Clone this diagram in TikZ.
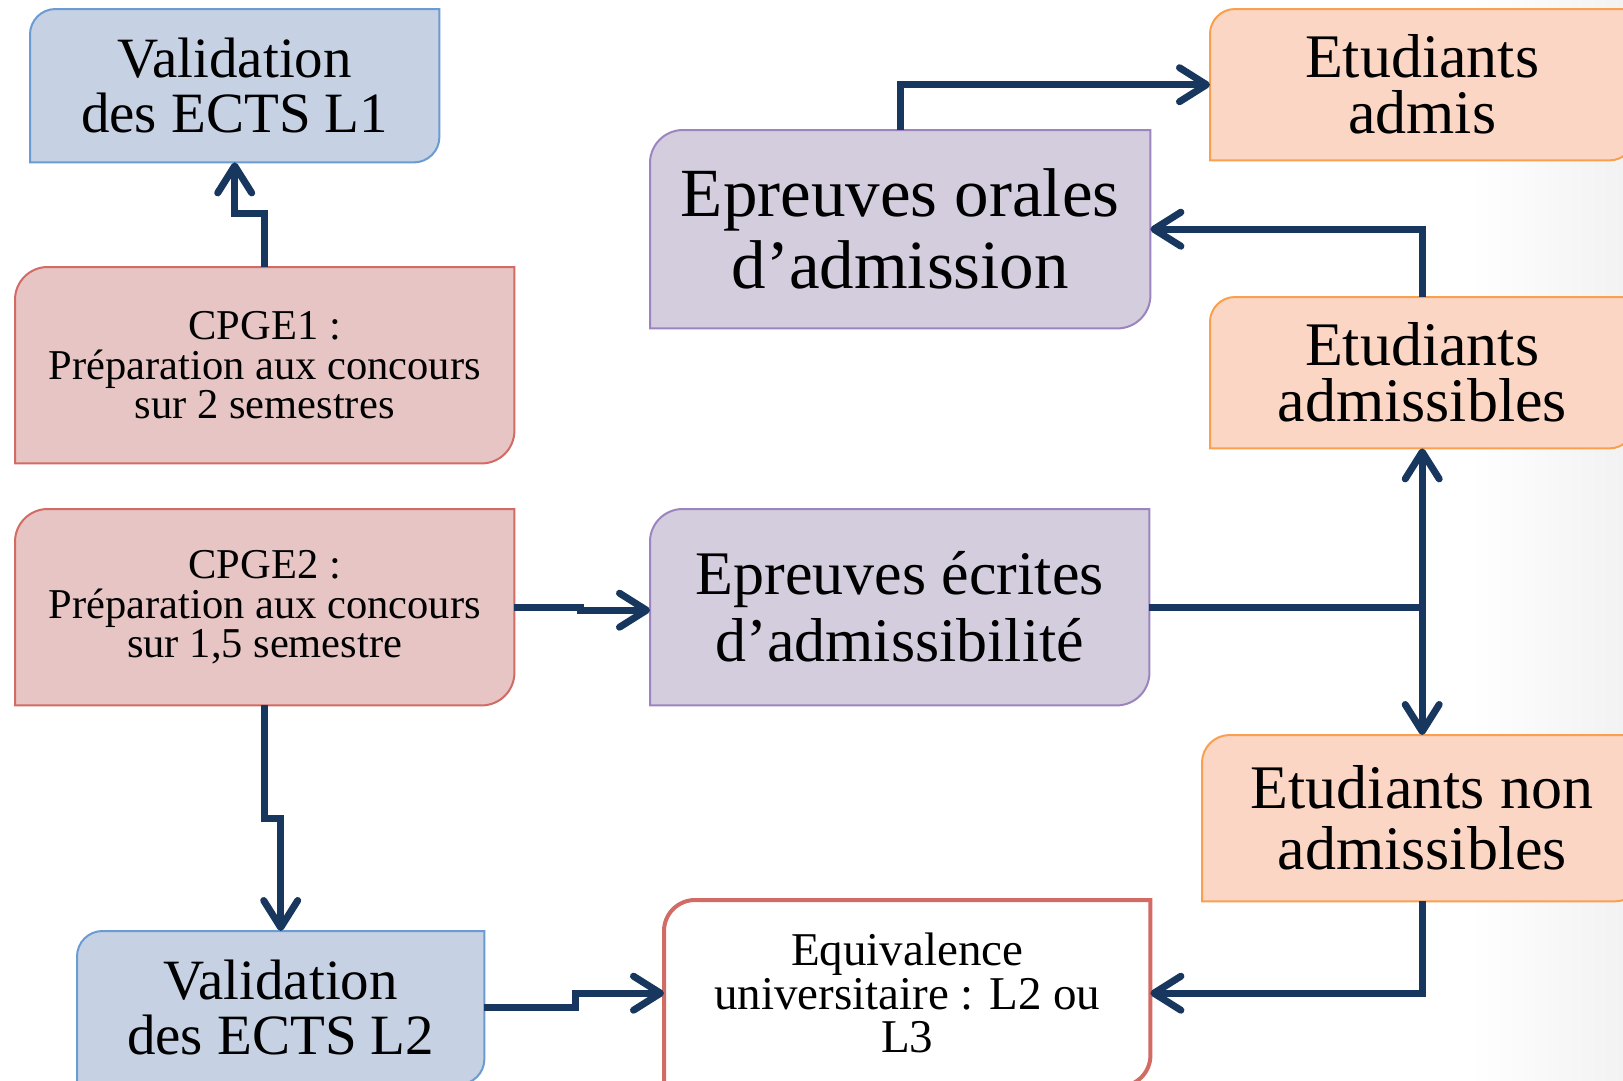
\documentclass[tikz,border=0pt]{standalone}
\usepackage{fontspec}
\setmainfont{Liberation Serif}
\usetikzlibrary{arrows.meta,calc}
\definecolor{navy}{HTML}{17375E}
\definecolor{bluef}{HTML}{C6D2E4}
\definecolor{blued}{HTML}{6A9BD2}
\definecolor{redf}{HTML}{E6C5C4}
\definecolor{redd}{HTML}{D26B64}
\definecolor{purf}{HTML}{D3CDDE}
\definecolor{purd}{HTML}{9C85BE}
\definecolor{oraf}{HTML}{FCD6C4}
\definecolor{orad}{HTML}{F8A04E}
\definecolor{shadegray}{HTML}{F2F2F2}
\pgfdeclarelayer{shadelayer}
\pgfdeclarelayer{boxlayer}
\pgfsetlayers{shadelayer,boxlayer,main}
\newcommand\dshape[3]{\path[#3] (#1.south west) -- ([yshift=-#2]#1.north west) arc[start angle=180,end angle=90,radius=#2] -- (#1.north east) -- ([yshift=#2]#1.south east) arc[start angle=0,end angle=-90,radius=#2] -- cycle;}
\tikzset{
  conn/.style={draw=navy, line width=7pt},
  arr/.style={conn, -{Straight Barb[length=27pt,width=34pt,round]}},
  bx/.style={rectangle, inner sep=0pt, anchor=north west, align=center},
  bigtxt/.style={font=\fontsize{57}{55}\selectfont},
  smalltxt/.style={font=\fontsize{42.5}{39.5}\selectfont},
  etxt/.style={font=\fontsize{62}{56}\selectfont},
}
\begin{document}
\begin{tikzpicture}[x=1pt,y=1pt]
\useasboundingbox (0,0) rectangle (1623,-1080);
\begin{pgfonlayer}{shadelayer}
\fill[white] (0,0) rectangle (1623,-1080);
\shade[left color=white, right color=shadegray] (1470,0) rectangle (1623,-1080);
\end{pgfonlayer}

\node[bx, bigtxt, minimum width=409pt, minimum height=153pt] (l1) at (30,-9) {Validation\\des ECTS L1};
\node[bx, smalltxt, minimum width=499pt, minimum height=196pt] (cpge1) at (15,-267) {CPGE1 :\\Préparation aux concours\\sur 2 semestres};
\node[bx, smalltxt, minimum width=499pt, minimum height=196pt] (cpge2) at (15,-509) {CPGE2 :\\Préparation aux concours\\sur 1,5 semestre};
\node[bx, bigtxt, minimum width=407pt, minimum height=153pt] (l2) at (77,-931) {Validation\\des ECTS L2};
\node[bx, font=\fontsize{69}{72}\selectfont, minimum width=500pt, minimum height=198pt] (orales) at (650,-130) {Epreuves orales\\d’admission};
\node[bx, font=\fontsize{62}{67}\selectfont, minimum width=499pt, minimum height=196pt] (ecrites) at (650,-509) {Epreuves écrites\\d’admissibilité};
\node[bx, font=\fontsize{47}{43.5}\selectfont, minimum width=486pt, minimum height=186pt] (equiv) at (664,-900) {Equivalence\\universitaire : L2 ou\\L3};
\node[bx, etxt, minimum width=424pt, minimum height=151pt] (admis) at (1210,-9) {Etudiants\\admis};
\node[bx, etxt, minimum width=424pt, minimum height=151pt] (admissibles) at (1210,-297) {Etudiants\\admissibles};
\node[bx, font=\fontsize{62}{61}\selectfont, minimum width=440pt, minimum height=166pt] (nonadm) at (1202,-735) {Etudiants non\\admissibles};

\begin{pgfonlayer}{boxlayer}
\dshape{l1}{25.5pt}{fill=bluef, draw=blued, line width=2pt}
\dshape{l2}{25.5pt}{fill=bluef, draw=blued, line width=2pt}
\dshape{cpge1}{32.7pt}{fill=redf, draw=redd, line width=2pt}
\dshape{cpge2}{32.7pt}{fill=redf, draw=redd, line width=2pt}
\dshape{orales}{33pt}{fill=purf, draw=purd, line width=2pt}
\dshape{ecrites}{32.7pt}{fill=purf, draw=purd, line width=2pt}
\dshape{equiv}{31pt}{fill=white, draw=redd, line width=4pt}
\dshape{admis}{25pt}{fill=oraf, draw=orad, line width=2pt}
\dshape{admissibles}{25pt}{fill=oraf, draw=orad, line width=2pt}
\dshape{nonadm}{27.7pt}{fill=oraf, draw=orad, line width=2pt}
\end{pgfonlayer}

\draw[arr] (cpge1.north) -- ++(0,54) -| (l1.south);
\draw[arr] (orales.north) |- (admis.west);
\draw[arr] (admissibles.north) |- (orales.east);
\draw[arr] (cpge2.east) -- ++(66,0) |- ([yshift=-3pt]ecrites.west);
\coordinate (junc) at (admissibles.south |- ecrites.east);
\draw[conn] (ecrites.east) -- (junc);
\draw[arr] (junc) -- (admissibles.south);
\draw[arr] (junc) -- (nonadm.north);
\draw[arr] (nonadm.south) |- (equiv.east);
\draw[arr] (l2.east) -- ++(91,0) |- (equiv.west);
\draw[arr] (cpge2.south) -- ++(0,-113) -| (l2.north);
\end{tikzpicture}
\end{document}
